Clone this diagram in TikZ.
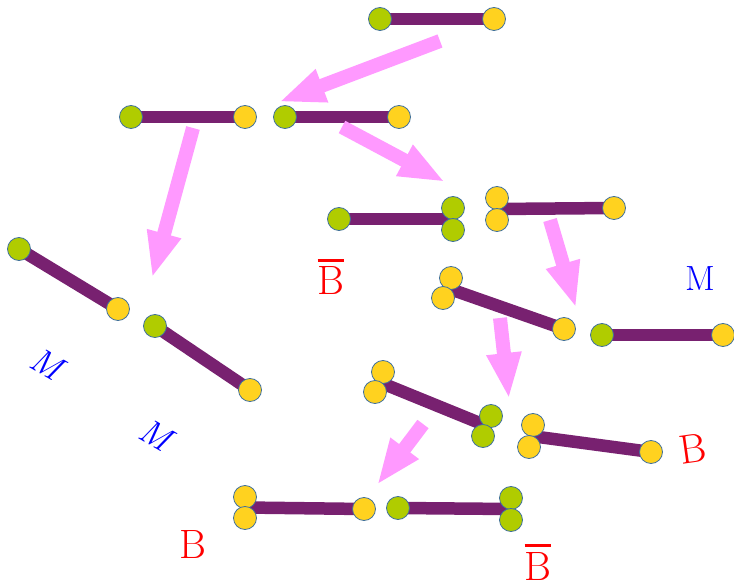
\documentclass[tikz,border=0pt]{standalone}
\usetikzlibrary{arrows.meta,backgrounds,calc}
\definecolor{ballgreen}{HTML}{B0CC00}
\definecolor{ballyellow}{HTML}{FFD21F}
\definecolor{ballrim}{HTML}{41719C}
\definecolor{barpurple}{HTML}{782170}
\definecolor{arrowpink}{HTML}{FF99FF}
% B with a heavy bar above it
\newcommand\barredB{\vbox{\hrule height 3.5pt\kern 4.5pt\hbox{B}}}
\tikzset{
  ball/.style={circle, minimum size=23pt, inner sep=0pt, draw=ballrim, line width=0.8pt},
  gball/.style={ball, fill=ballgreen},
  yball/.style={ball, fill=ballyellow},
  rod/.style={draw=barpurple, line width=12.5pt},
  fatarrow/.style={draw=arrowpink, line width=14pt, -{Triangle[length=46pt,width=32pt]}},
  redlbl/.style={text=red, font=\fontsize{41}{48}\selectfont, inner sep=0pt},
  bluelbl/.style={text=blue, font=\fontsize{35}{42}\selectfont, inner sep=0pt},
}
\begin{document}
\begin{tikzpicture}[x=1pt,y=-1pt]
\useasboundingbox (0,0) rectangle (734,585);

% atoms
\node[gball] (g1a) at (380,19) {};
\node[yball] (y1b) at (494,19) {};

\node[gball] (g2a) at (131,117) {};
\node[yball] (y2b) at (245,117) {};

\node[gball] (g3a) at (285,117) {};
\node[yball] (y3b) at (399,117) {};

\node[gball] (g4a) at (339,219) {};
\node[gball] (g4b) at (453,208) {};
\node[gball] (g4c) at (453,230) {};

\node[yball] (y5a) at (497,198) {};
\node[yball] (y5b) at (497,220) {};
\node[yball] (y5c) at (614,208) {};

\node[yball] (y6a) at (451,278) {};
\node[yball] (y6b) at (443,298) {};
\node[yball] (y6c) at (564,329) {};

\node[gball] (g7a) at (602,335) {};
\node[yball] (y7b) at (723,335) {};

\node[gball] (g8a) at (19,249) {};
\node[yball] (y8b) at (118,309) {};

\node[gball] (g9a) at (155,326) {};
\node[yball] (y9b) at (250,390) {};

\node[yball] (y10a) at (383,372) {};
\node[yball] (y10b) at (375,392) {};
\node[gball] (g10c) at (491,416) {};
\node[gball] (g10d) at (483,436) {};

\node[yball] (y11a) at (533,425) {};
\node[yball] (y11b) at (529,447) {};
\node[yball] (y11c) at (651,452) {};

\node[yball] (y12a) at (245,497) {};
\node[yball] (y12b) at (245,518) {};
\node[yball] (y12c) at (364,509) {};

\node[gball] (g13a) at (398,508) {};
\node[gball] (g13b) at (511,498) {};
\node[gball] (g13c) at (511,520) {};

% bonds, behind the atoms
\begin{scope}[on background layer]
\draw[rod] (g1a.center) -- (y1b.center);
\draw[rod] (g2a.center) -- (y2b.center);
\draw[rod] (g3a.center) -- (y3b.center);
\draw[rod] (g4a.center) -- ($(g4b)!0.5!(g4c)$);
\draw[rod] ($(y5a)!0.5!(y5b)$) -- (y5c.center);
\draw[rod] ($(y6a)!0.5!(y6b)$) -- (y6c.center);
\draw[rod] (g7a.center) -- (y7b.center);
\draw[rod] (g8a.center) -- (y8b.center);
\draw[rod] (g9a.center) -- (y9b.center);
\draw[rod] ($(y10a)!0.5!(y10b)$) -- ($(g10c)!0.5!(g10d)$);
\draw[rod] ($(y11a)!0.5!(y11b)$) -- (y11c.center);
\draw[rod] ($(y12a)!0.5!(y12b)$) -- (y12c.center);
\draw[rod] (g13a.center) -- ($(g13b)!0.5!(g13c)$);
\end{scope}

% reaction arrows
\coordinate (a1s) at (440,41);  \coordinate (a1e) at (279,102);
\coordinate (a2s) at (193,128); \coordinate (a2e) at (152,278);
\coordinate (a3s) at (342,127); \coordinate (a3e) at (445,182);
\coordinate (a4s) at (550,220); \coordinate (a4e) at (576,308);
\coordinate (a5s) at (500,318); \coordinate (a5e) at (509,399);
\coordinate (a6s) at (423,424); \coordinate (a6e) at (377,485);
\draw[fatarrow] (a1s) -- (a1e);
\draw[fatarrow] (a2s) -- (a2e);
\draw[fatarrow] (a3s) -- (a3e);
\draw[fatarrow] (a4s) -- (a4e);
\draw[fatarrow] (a5s) -- (a5e);
\draw[fatarrow] (a6s) -- (a6e);

% labels
\node[redlbl, anchor=base] (lb1) at (331,295) {\barredB};
\node[redlbl, anchor=base] (lb2) at (538,580) {\barredB};
\node[redlbl] (lb3) at (193,544) {B};
\node[redlbl, rotate=8] (lb4) at (693,449) {B};
\node[bluelbl] (lm1) at (700,279) {M};
\node[bluelbl, rotate=-30] (lm2) at (47,364) {\itshape M};
\node[bluelbl, rotate=-30] (lm3) at (156,435) {\itshape M};
\end{tikzpicture}
\end{document}
